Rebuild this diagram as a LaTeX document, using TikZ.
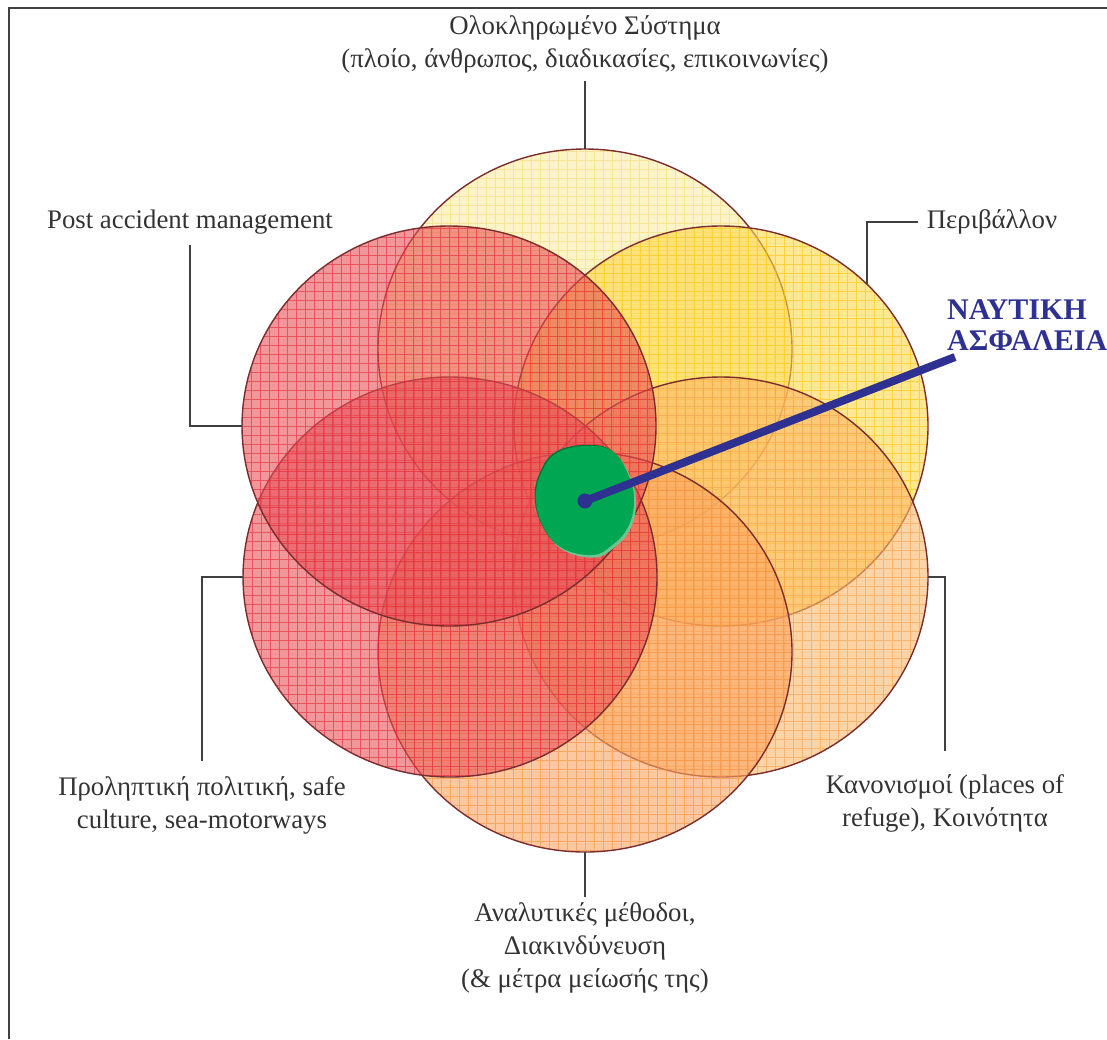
\documentclass[tikz,border=0pt]{standalone}
\usepackage{fontspec}
\setmainfont{Liberation Serif}
\definecolor{circline}{HTML}{7A2C2E}
\definecolor{cT}{HTML}{FAEBA3}
\definecolor{gT}{HTML}{F3D870}
\definecolor{cUR}{HTML}{FFD848}
\definecolor{gUR}{HTML}{FFC000}
\definecolor{cLR}{HTML}{FCB769}
\definecolor{gLR}{HTML}{F79A45}
\definecolor{cB}{HTML}{FCA461}
\definecolor{gB}{HTML}{F58A30}
\definecolor{cR}{HTML}{E85058}
\definecolor{gR}{HTML}{E3202D}
\definecolor{gmain}{HTML}{00A651}
\definecolor{gdark}{HTML}{00773A}
\definecolor{glight}{HTML}{6CC592}
\definecolor{navy}{HTML}{2E3192}
\definecolor{labeltext}{HTML}{333333}
\definecolor{connline}{HTML}{404040}
\newcommand\vennc[5]{%
  \coordinate (#5) at (#1,#2);
  \fill[#3, fill opacity=0.6] (#5) ellipse [x radius=207pt, y radius=200pt];
  \begin{scope}
    \clip (#5) ellipse [x radius=207pt, y radius=200pt];
    \begin{scope}[shift={(#5)}]
      \draw[#4, line width=0.8pt, draw opacity=0.55, step=9pt] (-212,-212) grid (212,212);
    \end{scope}
  \end{scope}
  \draw[outline] (#5) ellipse [x radius=207pt, y radius=200pt];
}
\newcommand\blobpath{plot[smooth cycle, tension=0.7] coordinates {(634,500) (628,527) (611,546) (592,555) (562,548) (544,528) (536,500) (541,474) (557,453) (588,446) (613,452) (628,474)}}
\begin{document}
\begin{tikzpicture}[x=1pt,y=-1pt,
  outline/.style={draw=circline, line width=1.4pt},
  lbl/.style={font=\fontsize{26.8}{33}\selectfont, text=labeltext, align=center, inner sep=3pt},
  conn/.style={draw=connline, line width=1.8pt},
  frameline/.style={draw=connline, line width=2.4pt}]
\useasboundingbox (0,0) rectangle (1107,1039);
\draw[frameline] (9,1039) -- (9,8) -- (1107,8);

\vennc{585}{349}{cT}{gT}{T}
\vennc{721}{426}{cUR}{gUR}{UR}
\vennc{721}{577}{cLR}{gLR}{LR}
\vennc{585}{652}{cB}{gB}{B}
\vennc{450}{577}{cR}{gR}{LL}
\vennc{449}{426}{cR}{gR}{UL}

% green core
\begin{scope}[shift={(2,2.5)}]
  \fill[glight] \blobpath;
\end{scope}
\begin{scope}[shift={(-1.2,-1.2)}]
  \fill[gdark] \blobpath;
\end{scope}
\fill[gmain] \blobpath;

% pointer
\node[circle, fill=navy, inner sep=0pt, minimum size=15pt] (dot) at (585,501) {};
\coordinate (ptr) at (955,357);
\draw[navy, line width=8pt] (dot.center) -- (ptr);
\node[anchor=north west, inner sep=0pt, align=left, text=navy,
      font=\bfseries\fontsize{30}{31}\selectfont] (ns) at (947,299) {ΝΑΥΤΙΚΗ\\ΑΣΦΑΛΕΙΑ};

% labels
\node[lbl] (lblTop) at (585,44) {Ολοκληρωμένο Σύστημα\\(πλοίο, άνθρωπος, διαδικασίες, επικοινωνίες)};
\node[lbl] (lblPost) at (190,222) {Post accident management};
\node[lbl] (lblEnv) at (992,222) {Περιβάλλον};
\node[lbl] (lblPrev) at (202,805) {Προληπτική πολιτική, safe\\culture, sea-motorways};
\node[lbl] (lblKan) at (945,803) {Κανονισμοί (places of\\refuge), Κοινότητα};
\node[lbl] (lblAnal) at (585,948) {Αναλυτικές μέθοδοι,\\Διακινδύνευση\\(\& μέτρα μείωσής της)};

% connector anchor points on circles
\coordinate (T-n) at (585,149);
\coordinate (UL-w) at (242,426);
\coordinate (UR-p) at (867,284);
\coordinate (LL-w) at (243,577);
\coordinate (LR-e) at (928,577);
\coordinate (B-s) at (585,852);

\draw[conn] ([yshift=-5pt]lblTop.south) -- (T-n);
\draw[conn] ([yshift=-8pt]lblPost.south) |- (UL-w);
\draw[conn] ([xshift=-6pt]lblEnv.west) -| (UR-p);
\draw[conn] (LL-w) -| ([yshift=12pt]lblPrev.north);
\draw[conn] (LR-e) -| ([yshift=20pt]lblKan.north);
\draw[conn] (B-s) -- ([yshift=3pt]lblAnal.north);
\end{tikzpicture}
\end{document}
